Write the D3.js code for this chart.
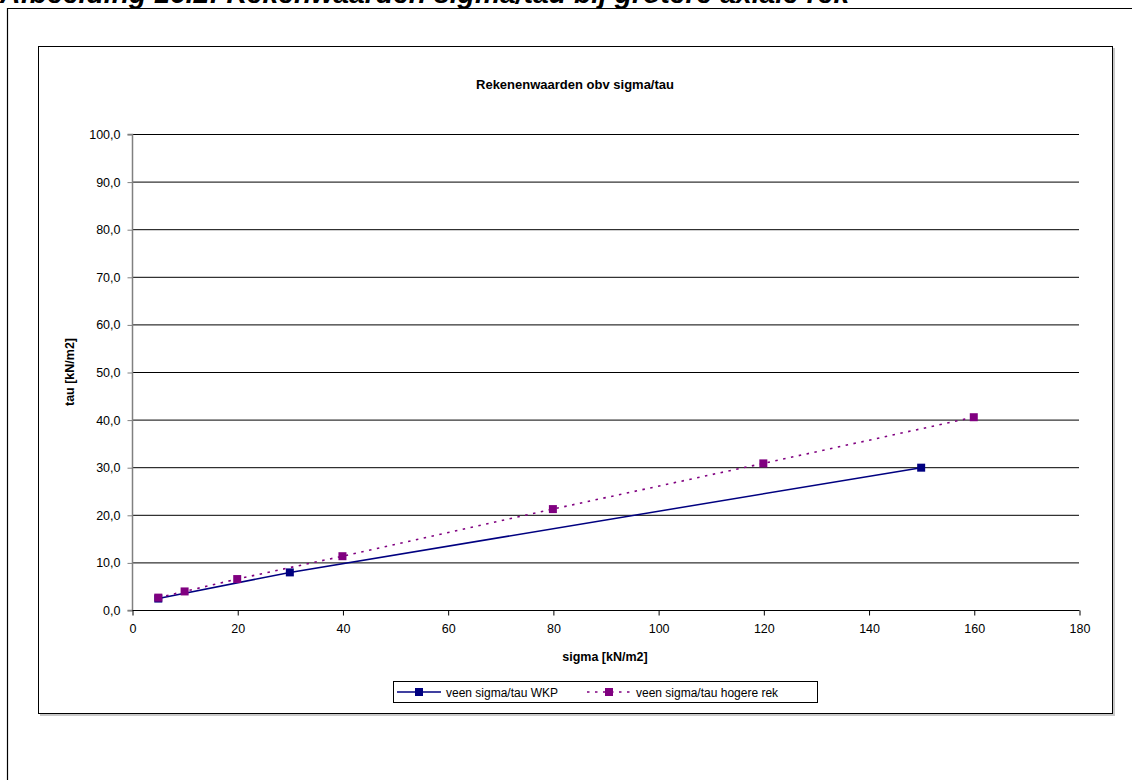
<!DOCTYPE html>
<html>
<head>
<meta charset="utf-8">
<script src="https://cdn.jsdelivr.net/npm/d3@7"></script>
<style>
  html, body { margin: 0; padding: 0; background: #fff; }
  svg { display: block; font-family: Arial, "Liberation Sans", sans-serif; }
</style>
</head>
<body>
<svg id="chart" width="1132" height="780"></svg>
<script>
// Series data: sigma [kN/m2] vs tau [kN/m2]
const wkpSigma = [5, 30, 150];
const wkpTau = [2.4, 7.9, 29.9];
const rekSigma = [5, 10, 20, 40, 80, 120, 160];
const rekTau = [2.6, 3.9, 6.5, 11.3, 21.2, 30.8, 40.5];

const xTicks = [0, 20, 40, 60, 80, 100, 120, 140, 160, 180];
const yTicks = [0, 10, 20, 30, 40, 50, 60, 70, 80, 90, 100];

const seriesNames = ["veen sigma/tau WKP", "veen sigma/tau hogere rek"];
const pageTitle = "Afbeelding 16.2: Rekenwaarden sigma/tau bij grotere axiale rek";
const chartTitle = "Rekenenwaarden obv sigma/tau";
const xLabel = "sigma [kN/m2]";
const yLabel = "tau [kN/m2]";

const svg = d3.select("#chart");

// Page heading, partly running off the top edge
svg.append("text")
  .attr("x", 0).attr("y", 3)
  .attr("font-size", 28.3).attr("font-weight", "bold").attr("font-style", "italic")
  .text(pageTitle);

// Outer frame (left and top rules)
svg.append("path")
  .attr("d", "M7.5,780 V8.5 H1132")
  .attr("fill", "none").attr("stroke", "#000").attr("stroke-width", 1.2);

// Chart box with a light shadow
svg.append("rect")
  .attr("x", 40).attr("y", 48).attr("width", 1075).attr("height", 668)
  .attr("fill", "#c8c8c8");
svg.append("rect")
  .attr("x", 38.5).attr("y", 46.5).attr("width", 1074).attr("height", 667)
  .attr("fill", "#fff").attr("stroke", "#000").attr("stroke-width", 1);

const x = d3.scaleLinear().domain([0, 180]).range([132, 1079]);
const y = d3.scaleLinear().domain([0, 100]).range([610, 134]);

// Horizontal gridlines
svg.append("g").selectAll("line")
  .data(yTicks.filter(d => d > 0))
  .join("line")
  .attr("x1", x(0)).attr("x2", x(180))
  .attr("y1", d => y(d) + 0.5).attr("y2", d => y(d) + 0.5)
  .attr("stroke", "#000").attr("stroke-width", 1);

// Y axis
const yAxis = d3.axisLeft(y).tickValues(yTicks).tickSize(5).tickPadding(7)
  .tickFormat(d => d3.format(".1f")(d).replace(".", ","));
const gy = svg.append("g").attr("transform", `translate(${x(0) + 0.5},0.5)`).call(yAxis);
gy.select(".domain").attr("stroke", "#808080").attr("stroke-width", 1.5).attr("d", `M-5,${y(0)}H0V${y(100)}H-5`);
gy.selectAll(".tick line").attr("stroke", "#808080");
gy.selectAll(".tick text").attr("font-size", 12.5).attr("fill", "#000")
  .attr("font-family", "Arial, 'Liberation Sans', sans-serif");

// X axis
const xAxis = d3.axisBottom(x).tickValues(xTicks).tickSize(5).tickPadding(9);
const gx = svg.append("g").attr("transform", `translate(0.5,${y(0) + 0.5})`).call(xAxis);
gx.select(".domain").attr("stroke", "#000").attr("stroke-width", 1.2).attr("d", `M${x(0)},0H${x(180)}`);
gx.selectAll(".tick line").attr("stroke", "#000");
gx.selectAll(".tick text").attr("font-size", 12.5).attr("fill", "#000")
  .attr("font-family", "Arial, 'Liberation Sans', sans-serif");

// Titles
svg.append("text")
  .attr("x", 575).attr("y", 89).attr("text-anchor", "middle")
  .attr("font-size", 13).attr("font-weight", "bold").text(chartTitle);
svg.append("text")
  .attr("x", 605).attr("y", 661).attr("text-anchor", "middle")
  .attr("font-size", 12.5).attr("font-weight", "bold").text(xLabel);
svg.append("text")
  .attr("transform", `translate(74,${(y(0) + y(100)) / 2}) rotate(-90)`)
  .attr("text-anchor", "middle")
  .attr("font-size", 12.5).attr("font-weight", "bold").text(yLabel);

// Lines
const line = d3.line().x(d => x(d[0])).y(d => y(d[1]));
const wkp = wkpSigma.map((s, i) => [s, wkpTau[i]]);
const rek = rekSigma.map((s, i) => [s, rekTau[i]]);

const wkpColor = "#000080";
const rekColor = "#800080";

svg.append("path").datum(wkp).attr("d", line)
  .attr("fill", "none").attr("stroke", wkpColor).attr("stroke-width", 1.5);
svg.append("path").datum(rek).attr("d", line)
  .attr("fill", "none").attr("stroke", rekColor).attr("stroke-width", 1.6)
  .attr("stroke-dasharray", "2.5,5.5");

const ms = 8;
svg.append("g").selectAll("rect").data(wkp).join("rect")
  .attr("x", d => x(d[0]) - ms / 2).attr("y", d => y(d[1]) - ms / 2)
  .attr("width", ms).attr("height", ms).attr("fill", wkpColor);
svg.append("g").selectAll("rect").data(rek).join("rect")
  .attr("x", d => x(d[0]) - ms / 2).attr("y", d => y(d[1]) - ms / 2)
  .attr("width", ms).attr("height", ms).attr("fill", rekColor);

// Legend
const lg = svg.append("g");
lg.append("rect").attr("x", 393.5).attr("y", 681.5).attr("width", 424).attr("height", 21)
  .attr("fill", "#fff").attr("stroke", "#000").attr("stroke-width", 1);
const legendItems = [
  { name: seriesNames[0], color: wkpColor, dash: null, x0: 397 },
  { name: seriesNames[1], color: rekColor, dash: "2.5,5.5", x0: 587 }
];
legendItems.forEach(it => {
  lg.append("line").attr("x1", it.x0).attr("x2", it.x0 + 44)
    .attr("y1", 692).attr("y2", 692)
    .attr("stroke", it.color).attr("stroke-width", 1.5)
    .attr("stroke-dasharray", it.dash);
  lg.append("rect").attr("x", it.x0 + 18).attr("y", 688).attr("width", 8).attr("height", 8)
    .attr("fill", it.color);
  lg.append("text").attr("x", it.x0 + 49).attr("y", 696.5)
    .attr("font-size", 12).text(it.name);
});
</script>
</body>
</html>
